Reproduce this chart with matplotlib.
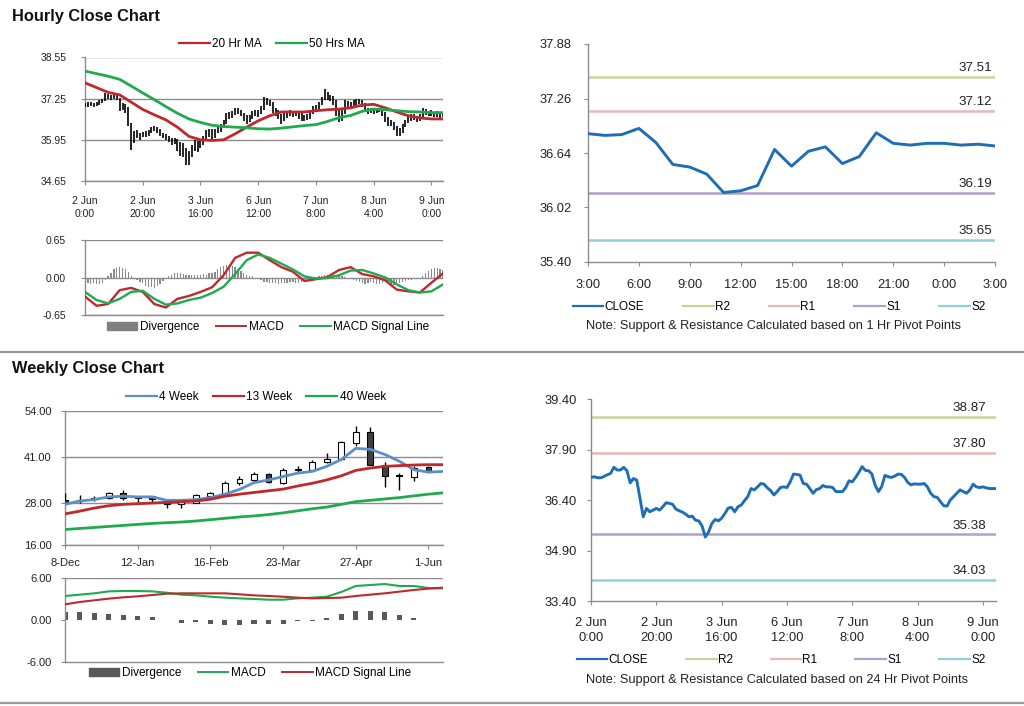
#!/usr/bin/env python3
"""
Hourly / weekly close dashboard: price + MACD on the left,
pivot support & resistance charts on the right.
"""

import numpy as np
import matplotlib.pyplot as plt
from matplotlib.lines import Line2D
from matplotlib.patches import Patch

W, H = 1024, 706

# ── Hourly data (2 Jun 0:00 → 9 Jun 4:00, trading hours only) ────────────────
HOURLY_CLOSE = [
    37.07, 37.09, 37.06, 37.06, 37.10, 37.15, 37.19, 37.37, 37.29, 37.29,
    37.37, 37.27, 36.91, 37.04, 36.99, 36.45, 35.90, 36.15, 36.05, 36.10,
    36.15, 36.10, 36.20, 36.32, 36.30, 36.27, 36.13, 36.08, 36.04, 35.98,
    35.90, 35.92, 35.80, 35.78, 35.63, 35.30, 35.45, 35.70, 35.82, 35.78,
    35.86, 36.00, 36.16, 36.18, 36.05, 36.20, 36.25, 36.38, 36.50, 36.74,
    36.70, 36.79, 36.89, 36.87, 36.76, 36.68, 36.55, 36.65, 36.77, 36.79,
    36.77, 36.94, 37.17, 37.16, 37.14, 36.89, 36.87, 36.74, 36.60, 36.71,
    36.74, 36.83, 36.79, 36.79, 36.77, 36.65, 36.65, 36.65, 36.77, 36.97,
    36.94, 37.07, 37.22, 37.39, 37.28, 37.27, 37.17, 36.84, 36.65, 36.80,
    37.13, 37.09, 37.07, 37.11, 37.17, 37.16, 37.07, 36.92, 36.85, 36.88,
    36.87, 36.87, 36.89, 36.79, 36.60, 36.50, 36.48, 36.35, 36.23, 36.22,
    36.40, 36.50, 36.60, 36.70, 36.65, 36.60, 36.70, 36.87, 36.79, 36.77,
    36.79, 36.76, 36.74, 36.74, 36.74,
]
HOURLY_HIGH = [
    37.12, 37.14, 37.13, 37.12, 37.16, 37.20, 37.25, 37.43, 37.40, 37.36,
    37.42, 37.40, 37.28, 37.10, 37.08, 37.00, 36.48, 36.22, 36.25, 36.18,
    36.20, 36.22, 36.25, 36.36, 36.38, 36.35, 36.30, 36.18, 36.12, 36.08,
    36.02, 36.00, 35.98, 35.88, 35.85, 35.70, 35.60, 35.78, 35.95, 35.90,
    35.98, 36.08, 36.25, 36.28, 36.30, 36.28, 36.35, 36.45, 36.58, 36.80,
    36.82, 36.86, 36.95, 36.96, 36.90, 36.80, 36.72, 36.72, 36.85, 36.90,
    36.88, 37.02, 37.30, 37.28, 37.22, 37.15, 36.95, 36.90, 36.78, 36.80,
    36.82, 36.88, 36.86, 36.85, 36.84, 36.80, 36.72, 36.75, 36.82, 37.02,
    37.05, 37.15, 37.30, 37.54, 37.45, 37.38, 37.32, 37.20, 36.90, 36.88,
    37.20, 37.18, 37.15, 37.20, 37.25, 37.24, 37.20, 37.10, 36.96, 36.95,
    36.94, 36.95, 36.96, 36.92, 36.82, 36.66, 36.58, 36.52, 36.38, 36.32,
    36.45, 36.58, 36.72, 36.78, 36.78, 36.70, 36.75, 36.95, 36.92, 36.85,
    36.88, 36.84, 36.86, 36.82, 36.80,
]
HOURLY_LOW = [
    36.98, 37.00, 37.01, 37.00, 37.03, 37.06, 37.10, 37.17, 37.24, 37.20,
    37.25, 37.20, 36.85, 36.88, 36.80, 36.40, 35.62, 35.85, 36.00, 35.95,
    36.03, 36.05, 36.06, 36.15, 36.22, 36.18, 36.08, 36.00, 35.95, 35.88,
    35.80, 35.82, 35.60, 35.45, 35.40, 35.14, 35.15, 35.40, 35.60, 35.55,
    35.70, 35.80, 35.95, 36.05, 35.98, 36.00, 36.15, 36.20, 36.32, 36.45,
    36.62, 36.65, 36.72, 36.78, 36.70, 36.55, 36.45, 36.50, 36.60, 36.70,
    36.68, 36.75, 36.90, 37.05, 37.02, 36.80, 36.70, 36.60, 36.45, 36.55,
    36.65, 36.70, 36.68, 36.70, 36.62, 36.55, 36.55, 36.58, 36.62, 36.75,
    36.85, 36.90, 37.05, 37.20, 37.20, 37.18, 37.05, 36.70, 36.50, 36.55,
    36.78, 37.00, 36.98, 37.02, 37.05, 37.08, 37.00, 36.85, 36.78, 36.80,
    36.78, 36.80, 36.82, 36.70, 36.52, 36.40, 36.38, 36.25, 36.06, 36.08,
    36.15, 36.35, 36.48, 36.55, 36.58, 36.52, 36.55, 36.65, 36.72, 36.70,
    36.70, 36.68, 36.66, 36.65, 36.66,
]
HOURLY_TICKS = ["2 Jun\n0:00", "2 Jun\n20:00", "3 Jun\n16:00", "6 Jun\n12:00",
                "7 Jun\n8:00", "8 Jun\n4:00", "9 Jun\n0:00"]

# moving averages / MACD read every 4th hour
MA20_H = [37.75, 37.60, 37.45, 37.37, 37.14, 36.91, 36.74, 36.58, 36.35, 36.06,
          35.95, 35.93, 35.95, 36.14, 36.35, 36.55, 36.71, 36.83, 36.83, 36.83,
          36.87, 36.90, 36.92, 36.96, 37.05, 37.07, 36.96, 36.83, 36.71, 36.64,
          36.61, 36.61]
MA50_H = [38.12, 38.04, 37.96, 37.86, 37.65, 37.43, 37.22, 37.00, 36.79, 36.61,
          36.50, 36.41, 36.37, 36.35, 36.33, 36.30, 36.29, 36.32, 36.36, 36.40,
          36.43, 36.53, 36.65, 36.72, 36.85, 36.92, 36.90, 36.87, 36.84, 36.83,
          36.81, 36.81]
MACD_H = [-0.33, -0.49, -0.46, -0.22, -0.18, -0.25, -0.46, -0.52, -0.37, -0.32,
          -0.25, -0.17, 0.04, 0.34, 0.43, 0.43, 0.30, 0.18, 0.10, -0.06,
          -0.03, 0.01, 0.13, 0.18, 0.06, 0.02, -0.05, -0.21, -0.24, -0.26,
          -0.09, 0.07]
SIGNAL_H = [-0.25, -0.39, -0.45, -0.37, -0.25, -0.23, -0.37, -0.47, -0.45, -0.39,
            -0.35, -0.27, -0.16, 0.06, 0.30, 0.40, 0.34, 0.24, 0.14, 0.02,
            -0.02, -0.01, 0.04, 0.12, 0.13, 0.07, 0.00, -0.12, -0.22, -0.26,
            -0.24, -0.12]
DIVERGENCE_H = [
    -0.08, -0.10, -0.12, -0.10, -0.12, -0.11, -0.09, -0.05,
    0.02, 0.08, 0.14, 0.17, 0.18, 0.17, 0.15, 0.10,
    0.03, -0.02, -0.05, -0.08, -0.10, -0.14, -0.16, -0.17, -0.18, -0.15, -0.12, -0.06, -0.02,
    0.03, 0.05, 0.07, 0.08, 0.07, 0.06, 0.05, 0.04, 0.04, 0.05, 0.04, 0.05, 0.06, 0.05, 0.07, 0.08,
    0.10, 0.14, 0.18, 0.20, 0.22, 0.21, 0.20, 0.18, 0.15, 0.11, 0.08, 0.05,
    0.03, 0.02, 0.00, -0.02, -0.05, -0.07,
    -0.08, -0.10, -0.10, -0.09, -0.11, -0.10, -0.09, -0.10, -0.08, -0.07, -0.09, -0.10, -0.08, -0.06, -0.04,
    -0.02, 0.00, 0.01, 0.02, 0.03, 0.04, 0.05, 0.05, 0.04, 0.03, 0.03, 0.02, 0.01, 0.00, -0.02, -0.04, -0.06,
    -0.08, -0.10, -0.11, -0.09, -0.08, -0.10, -0.12, -0.11, -0.09, -0.08, -0.10, -0.12, -0.13,
    -0.11, -0.09, -0.07, -0.06, -0.05, -0.04, -0.03, -0.02, 0.00, 0.03,
    0.08, 0.12, 0.15, 0.17, 0.16, 0.15, 0.13,
]

# ── Last 24 hours (1 Hr pivot chart) ──────────────────────────────────────────
PIVOT_CLOSE = [36.86, 36.84, 36.85, 36.92, 36.76, 36.51, 36.48, 36.40, 36.19,
               36.21, 36.27, 36.68, 36.49, 36.66, 36.71, 36.52, 36.60, 36.87,
               36.75, 36.73, 36.75, 36.75, 36.73, 36.74, 36.72]
PIVOT_TICKS = ["3:00", "6:00", "9:00", "12:00", "15:00", "18:00", "21:00",
               "0:00", "3:00"]

LEVEL_NAMES  = ["R2", "R1", "S1", "S2"]
LEVEL_COLORS = ["#C4D79B", "#E6B8B7", "#B1A0C7", "#92CDDC"]
LEVELS_1H    = [37.51, 37.12, 36.19, 35.65]
LEVELS_24H   = [38.87, 37.80, 35.38, 34.03]

# ── Weekly data (8-Dec → 1-Jun) ───────────────────────────────────────────────
WEEK_TICKS = ["8-Dec", "12-Jan", "16-Feb", "23-Mar", "27-Apr", "1-Jun"]
WK_OPEN  = [28.7, 28.4, 29.1, 29.4, 30.8, 29.2, 29.8, 28.2, 27.5, 28.0, 30.0,
            30.6, 33.5, 34.4, 36.1, 33.7, 37.2, 37.4, 39.5, 40.4, 45.0, 48.0,
            38.8, 35.9, 35.4, 38.0]
WK_HIGH  = [30.8, 30.2, 29.8, 31.0, 31.5, 29.9, 30.0, 28.4, 28.4, 30.5, 31.0,
            34.2, 35.5, 36.8, 36.5, 37.8, 38.3, 40.0, 42.0, 45.4, 49.8, 49.4,
            39.4, 36.5, 38.3, 38.5]
WK_LOW   = [27.5, 28.0, 28.5, 29.0, 28.8, 27.9, 28.0, 26.6, 26.5, 27.9, 29.8,
            30.5, 33.0, 34.0, 33.5, 33.3, 36.6, 37.2, 39.3, 40.3, 44.2, 38.8,
            32.5, 31.6, 34.1, 36.6]
WK_CLOSE = [28.0, 28.9, 29.4, 30.8, 29.4, 29.5, 29.1, 27.5, 28.1, 30.1, 30.7,
            33.7, 34.7, 36.1, 34.0, 37.3, 37.5, 39.5, 40.5, 45.2, 48.0, 38.8,
            35.7, 35.6, 37.9, 36.8]
WK_MA4  = [27.52, 28.48, 28.87, 29.64, 29.83, 29.64, 29.64, 28.67, 28.67, 28.87,
           29.44, 30.41, 31.75, 33.68, 34.45, 35.41, 36.38, 36.86, 38.30, 40.23,
           43.41, 43.12, 41.67, 39.75, 37.34, 36.67, 36.86]
WK_MA13 = [24.82, 25.59, 26.46, 27.13, 27.52, 27.71, 27.90, 28.10, 28.29, 28.48,
           28.96, 29.83, 30.41, 30.89, 31.37, 31.85, 32.72, 33.49, 34.45, 35.61,
           37.15, 37.82, 38.30, 38.50, 38.69, 38.78, 38.78]
WK_MA40 = [20.39, 20.68, 20.97, 21.26, 21.55, 21.84, 22.12, 22.32, 22.51, 22.80,
           23.18, 23.57, 23.95, 24.24, 24.63, 25.11, 25.69, 26.27, 26.75, 27.52,
           28.29, 28.67, 29.06, 29.44, 29.93, 30.41, 30.79]
WK_MACD   = [3.43, 3.62, 3.81, 4.09, 4.14, 4.14, 4.09, 3.90, 3.62, 3.52, 3.33,
             3.19, 3.09, 3.00, 2.90, 2.90, 3.09, 3.19, 3.33, 4.00, 4.86, 5.00,
             5.14, 4.86, 4.86, 4.57, 4.52]
WK_SIGNAL = [2.24, 2.57, 2.81, 3.05, 3.24, 3.38, 3.57, 3.76, 3.81, 3.81, 3.81,
             3.81, 3.67, 3.52, 3.43, 3.33, 3.19, 3.09, 3.14, 3.19, 3.43, 3.62,
             3.81, 4.05, 4.29, 4.48, 4.62]
WK_DIV    = [1.14, 1.14, 1.00, 0.81, 0.67, 0.52, 0.38, 0.05, -0.38, -0.29, -0.52,
             -0.67, -0.67, -0.52, -0.52, -0.52, -0.19, -0.19, 0.24, 0.81, 1.33,
             1.33, 1.14, 0.67, 0.33, 0.05, -0.05]

RED   = "#C0282D"
GREEN = "#1FAA4F"
BLUE  = "#1F6EB5"
LBLUE = "#5B8FC9"
GRID  = "#8C8C8C"
TXT   = "#222222"

FS_TICK_L = 7.5
FS_TICK_R = 9.3
FS_LEG    = 8.5
FS_NOTE   = 9.2


def px_axes(fig, x0, y0, x1, y1):
    return fig.add_axes([x0 / W, 1 - y1 / H, (x1 - x0) / W, (y1 - y0) / H])


def style(ax, fs, xpad, ypad, grid=True):
    for s in ("top", "right"):
        ax.spines[s].set_visible(False)
    for s in ("left", "bottom"):
        ax.spines[s].set_color(GRID)
        ax.spines[s].set_linewidth(1.0)
    ax.tick_params(axis="both", labelsize=fs, colors=GRID, labelcolor=TXT,
                   length=3, width=0.8, direction="out")
    ax.tick_params(axis="x", pad=xpad)
    ax.tick_params(axis="y", pad=ypad)
    if grid:
        ax.grid(True, axis="y", color=GRID, linewidth=1.0)
        ax.set_axisbelow(True)


def pivot_panel(ax, close, levels, label_x, xpad, ypad):
    x = np.arange(len(close))
    for lvl, color in zip(levels, LEVEL_COLORS):
        ax.axhline(lvl, color=color, linewidth=1.8, zorder=2)
        ax.annotate(f"{lvl:.2f}", xy=(label_x, lvl),
                    xycoords=("axes fraction", "data"), xytext=(0, 2),
                    textcoords="offset points", ha="right", va="bottom",
                    fontsize=FS_TICK_R + 0.3, color=TXT)
    ax.plot(x, close, color=BLUE, linewidth=2.1, zorder=3)
    ax.set_xlim(0, len(close) - 1)
    style(ax, FS_TICK_R, xpad, ypad, grid=False)


def pivot_legend(fig, x0, x1, yc):
    handles = [Line2D([], [], color=BLUE, linewidth=1.6)]
    handles += [Line2D([], [], color=c, linewidth=1.6) for c in LEVEL_COLORS]
    fig.legend(handles, ["CLOSE"] + LEVEL_NAMES, loc="center", ncol=5,
               mode="expand", bbox_to_anchor=(x0 / W, 1 - (yc + 8) / H,
                                              (x1 - x0) / W, 16 / H),
               frameon=False, fontsize=FS_LEG, handlelength=2.6,
               handletextpad=0.1, borderaxespad=0)


def main():
    plt.rcParams["font.family"] = ["Liberation Sans", "DejaVu Sans"]
    fig = plt.figure(figsize=(W / 100, H / 100), dpi=100)

    fig.text(12 / W, 1 - 16 / H, "Hourly Close Chart", fontsize=11.8,
             fontweight="bold", va="center", color="#111111")
    fig.text(12 / W, 1 - 369 / H, "Weekly Close Chart", fontsize=11.8,
             fontweight="bold", va="center", color="#111111")
    for y in (352, 703):
        fig.add_artist(Line2D([0, 1], [1 - y / H, 1 - y / H],
                              transform=fig.transFigure, color="#9A9A9A",
                              linewidth=1.6))

    hx = np.arange(len(HOURLY_CLOSE))
    ma_x = np.arange(0, len(HOURLY_CLOSE), 4)

    # ── Hourly price with MAs ─────────────────────────────────────────────────
    ax = px_axes(fig, 85, 57.5, 443, 181)
    ax.vlines(hx, HOURLY_LOW, HOURLY_HIGH, color="black", linewidth=1.2, zorder=3)
    ax.plot(ma_x, MA20_H, color=RED, linewidth=2.0, zorder=4)
    ax.plot(ma_x, MA50_H, color=GREEN, linewidth=2.0, zorder=4)
    ax.set_xlim(0, 124)
    ax.set_ylim(34.65, 38.55)
    ax.set_yticks([34.65, 35.95, 37.25, 38.55])
    ax.set_yticklabels(["34.65", "35.95", "37.25", "38.55"])
    ax.set_xticks(np.arange(0, 121, 20))
    ax.set_xticklabels(HOURLY_TICKS, linespacing=1.3)
    style(ax, FS_TICK_L, xpad=8, ypad=10.5)
    fig.legend([Line2D([], [], color=RED, linewidth=1.6),
                Line2D([], [], color=GREEN, linewidth=1.6)],
               ["20 Hr MA", "50 Hrs MA"], loc="center", ncol=2,
               bbox_to_anchor=(272 / W, 1 - 44 / H), frameon=False,
               fontsize=FS_LEG, handlelength=2.6, handletextpad=0.2,
               columnspacing=1.2)

    # ── Hourly MACD ───────────────────────────────────────────────────────────
    ax = px_axes(fig, 85, 240, 443, 315)
    ax.bar(hx, DIVERGENCE_H, width=0.45, color="#8A8A8A", zorder=2)
    ax.plot(ma_x, MACD_H, color=RED, linewidth=1.7, zorder=3)
    ax.plot(ma_x, SIGNAL_H, color=GREEN, linewidth=1.7, zorder=3)
    ax.set_xlim(0, 124)
    ax.set_ylim(-0.65, 0.65)
    ax.set_yticks([-0.65, 0.0, 0.65])
    ax.set_yticklabels(["-0.65", "0.00", "0.65"])
    ax.set_xticks([])
    style(ax, FS_TICK_L, xpad=3, ypad=10.5)
    fig.legend([Patch(color="#7F7F7F"), Line2D([], [], color=RED, linewidth=1.4),
                Line2D([], [], color=GREEN, linewidth=1.4)],
               ["Divergence", "MACD", "MACD Signal Line"], loc="center", ncol=3,
               bbox_to_anchor=(268 / W, 1 - 327 / H), frameon=False,
               fontsize=FS_LEG, handlelength=2.6, handleheight=0.6,
               handletextpad=0.2, columnspacing=1.4)

    # ── 1 Hr pivot chart ──────────────────────────────────────────────────────
    ax = px_axes(fig, 588, 44, 995, 262)
    pivot_panel(ax, PIVOT_CLOSE, LEVELS_1H, 0.993, xpad=9, ypad=8.5)
    ax.set_ylim(35.40, 37.88)
    ax.set_yticks([35.40, 36.02, 36.64, 37.26, 37.88])
    ax.set_yticklabels(["35.40", "36.02", "36.64", "37.26", "37.88"])
    ax.set_xticks(np.arange(0, 25, 3))
    ax.set_xticklabels(PIVOT_TICKS)
    pivot_legend(fig, 568, 990, 307)
    fig.text(773 / W, 1 - 326 / H,
             "Note: Support & Resistance Calculated based on 1 Hr Pivot Points",
             ha="center", va="center", fontsize=FS_NOTE, color=TXT)

    # ── Weekly candles with MAs ───────────────────────────────────────────────
    wx = np.arange(len(WK_CLOSE))
    mx = np.arange(len(WK_MA4))
    ax = px_axes(fig, 65, 411, 443, 545)
    ax.vlines(wx, WK_LOW, WK_HIGH, color="black", linewidth=1.0, zorder=3)
    up = [c >= o for o, c in zip(WK_OPEN, WK_CLOSE)]
    bottoms = [min(o, c) for o, c in zip(WK_OPEN, WK_CLOSE)]
    heights = [max(abs(c - o), 0.15) for o, c in zip(WK_OPEN, WK_CLOSE)]
    ax.bar(wx, heights, bottom=bottoms, width=0.4,
           color=["white" if u else "#3F3F3F" for u in up],
           edgecolor="black", linewidth=0.8, zorder=4)
    ax.plot(mx, WK_MA4, color=LBLUE, linewidth=2.0, zorder=5)
    ax.plot(mx, WK_MA13, color=RED, linewidth=2.0, zorder=5)
    ax.plot(mx, WK_MA40, color=GREEN, linewidth=2.0, zorder=5)
    ax.set_xlim(0, 26)
    ax.set_ylim(16, 54)
    ax.set_yticks([16, 28, 41, 54])
    ax.set_yticklabels(["16.00", "28.00", "41.00", "54.00"])
    ax.set_xticks(np.arange(0, 26, 5))
    ax.set_xticklabels(WEEK_TICKS)
    style(ax, FS_TICK_L + 0.5, xpad=6, ypad=6.5)
    fig.legend([Line2D([], [], color=LBLUE, linewidth=1.6),
                Line2D([], [], color=RED, linewidth=1.6),
                Line2D([], [], color=GREEN, linewidth=1.6)],
               ["4 Week", "13 Week", "40 Week"], loc="center", ncol=3,
               bbox_to_anchor=(256 / W, 1 - 397 / H), frameon=False,
               fontsize=FS_LEG, handlelength=2.6, handletextpad=0.2,
               columnspacing=1.2)

    # ── Weekly MACD ───────────────────────────────────────────────────────────
    ax = px_axes(fig, 65, 578, 443, 662)
    ax.bar(mx, WK_DIV, width=0.35, color="#595959", zorder=2)
    ax.plot(mx, WK_MACD, color=GREEN, linewidth=1.5, zorder=3)
    ax.plot(mx, WK_SIGNAL, color=RED, linewidth=1.5, zorder=3)
    ax.set_xlim(0, 26)
    ax.set_ylim(-6, 6)
    ax.set_yticks([-6, 0, 6])
    ax.set_yticklabels(["-6.00", "0.00", "6.00"])
    ax.set_xticks([])
    style(ax, FS_TICK_L + 0.5, xpad=3, ypad=6.5, grid=False)
    ax.axhline(6, color=GRID, linewidth=1.0)
    fig.legend([Patch(color="#595959"), Line2D([], [], color=GREEN, linewidth=1.4),
                Line2D([], [], color=RED, linewidth=1.4)],
               ["Divergence", "MACD", "MACD Signal Line"], loc="center", ncol=3,
               bbox_to_anchor=(250 / W, 1 - 673 / H), frameon=False,
               fontsize=FS_LEG, handlelength=2.6, handleheight=0.6,
               handletextpad=0.2, columnspacing=1.4)

    # ── 24 Hr pivot chart ─────────────────────────────────────────────────────
    ax = px_axes(fig, 591, 399, 996, 601)
    pivot_panel(ax, HOURLY_CLOSE, LEVELS_24H, 0.975, xpad=8.5, ypad=7)
    ax.set_ylim(33.40, 39.40)
    ax.set_yticks([33.40, 34.90, 36.40, 37.90, 39.40])
    ax.set_yticklabels(["33.40", "34.90", "36.40", "37.90", "39.40"])
    ax.set_xticks(np.arange(0, 121, 20))
    ax.set_xticklabels(HOURLY_TICKS, linespacing=1.3)
    pivot_legend(fig, 572, 990, 660)
    fig.text(777 / W, 1 - 680 / H,
             "Note: Support & Resistance Calculated based on 24 Hr Pivot Points",
             ha="center", va="center", fontsize=FS_NOTE, color=TXT)

    fig.savefig("out.png", dpi=100)


if __name__ == "__main__":
    main()
